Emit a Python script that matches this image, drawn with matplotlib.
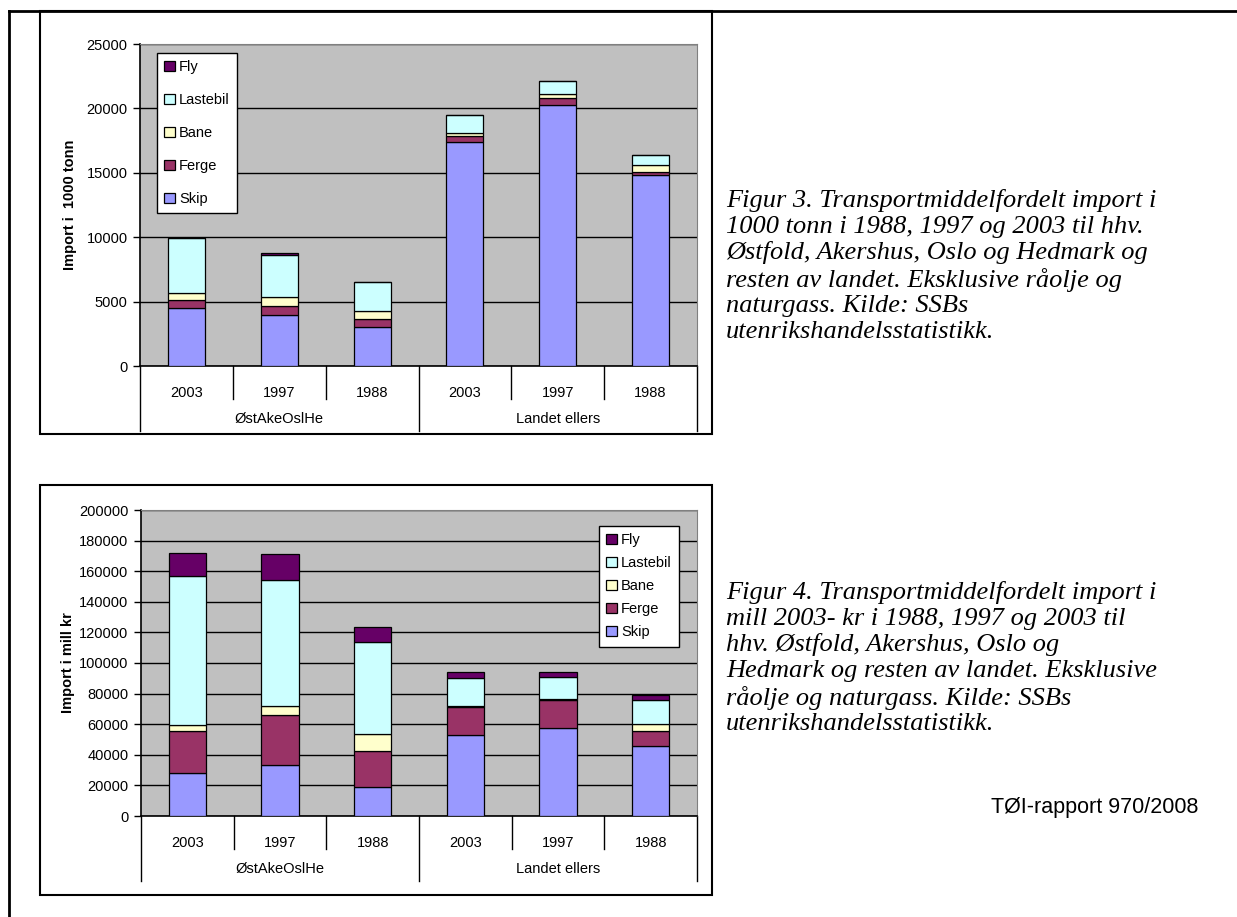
import numpy as np
import matplotlib
matplotlib.use('Agg')
import matplotlib.pyplot as plt
from matplotlib.patches import Rectangle
from matplotlib.lines import Line2D

W, H = 1237, 917

years = ['2003', '1997', '1988', '2003', '1997', '1988']
groups = ['ØstAkeOslHe', 'Landet ellers']
modes = ['Skip', 'Ferge', 'Bane', 'Lastebil', 'Fly']
colors = ['#9999FF', '#993366', '#FFFFCC', '#CCFFFF', '#660066']

# import i 1000 tonn
tonn_skip = [4540, 3970, 3010, 17380, 20230, 14830]
tonn_ferge = [620, 670, 670, 510, 540, 260]
tonn_bane = [520, 680, 570, 210, 340, 520]
tonn_lastebil = [4220, 3290, 2260, 1380, 1010, 750]
tonn_fly = [40, 130, 20, 30, 40, 20]

# import i mill kr
kr_skip = [28100, 33600, 18700, 52900, 57700, 45800]
kr_ferge = [27200, 32200, 23800, 18600, 18300, 9800]
kr_bane = [4400, 6100, 11100, 600, 300, 4300]
kr_lastebil = [96900, 82600, 60100, 17900, 14500, 15900]
kr_fly = [15300, 16500, 10000, 4100, 3300, 3100]

caption3 = ["Figur 3. Transportmiddelfordelt import i",
            "1000 tonn i 1988, 1997 og 2003 til hhv.",
            "Østfold, Akershus, Oslo og Hedmark og",
            "resten av landet. Eksklusive råolje og",
            "naturgass. Kilde: SSBs",
            "utenrikshandelsstatistikk."]
caption4 = ["Figur 4. Transportmiddelfordelt import i",
            "mill 2003- kr i 1988, 1997 og 2003 til",
            "hhv. Østfold, Akershus, Oslo og",
            "Hedmark og resten av landet. Eksklusive",
            "råolje og naturgass. Kilde: SSBs",
            "utenrikshandelsstatistikk."]

plt.rcParams['font.family'] = ['Liberation Sans', 'DejaVu Sans']
FS = 10.5
SERIF = ['Liberation Serif', 'DejaVu Serif']


def px_rect(x0, y0, x1, y1):
    """ Pixel box (top-left origin) to figure fraction rect. """
    return [x0 / W, 1 - y1 / H, (x1 - x0) / W, (y1 - y0) / H]


def draw_chart(fig, box, area, series, ymax, ystep, ylabel, labelpad, legend_box, legend_spacing):
    # outer chart frame
    bx0, by0, bx1, by1 = box
    fig.add_artist(Rectangle((bx0 / W, 1 - by1 / H), (bx1 - bx0) / W, (by1 - by0) / H,
                             transform=fig.transFigure, fill=False, edgecolor='black', lw=1.5))

    ax = fig.add_axes(px_rect(*area))
    ax.set_facecolor('#C0C0C0')
    x = np.arange(len(years))
    bottom = np.zeros(len(years))
    handles = []
    for vals, name, c in zip(series, modes, colors):
        b = ax.bar(x, vals, 0.4, bottom=bottom, color=c, edgecolor='black', lw=0.9,
                   label=name, zorder=3)
        bottom += np.array(vals)
        handles.append(b)

    ax.set_xlim(-0.5, len(years) - 0.5)
    ax.set_ylim(0, ymax)
    ax.set_yticks(np.arange(0, ymax + 1, ystep))
    ax.yaxis.grid(True, color='black', lw=1.0, zorder=1)
    ax.tick_params(axis='y', direction='out', length=5, width=1, labelsize=FS, pad=4)
    ax.set_xticks([])
    for s in ['top', 'right']:
        ax.spines[s].set_color('#808080')
    for s in ['left', 'bottom']:
        ax.spines[s].set_color('black')
        ax.spines[s].set_linewidth(1.2)

    ax.set_ylabel(ylabel, fontsize=FS, fontweight='bold', labelpad=labelpad)

    # category axis: year labels, group labels and separators
    ah = area[3] - area[1]
    trans = ax.get_xaxis_transform()
    for i, yr in enumerate(years):
        ax.text(i, -27 / ah, yr, transform=trans, ha='center', va='center', fontsize=FS)
    for g, name in enumerate(groups):
        ax.text(g * 3 + 1, -53 / ah, name, transform=trans, ha='center', va='center', fontsize=FS)
    for k in range(len(years) + 1):
        depth = 65 if k % 3 == 0 else 33
        ax.add_line(Line2D([k - 0.5, k - 0.5], [0, -depth / ah], transform=trans,
                           color='black', lw=1.0, clip_on=False))

    lx0, ly0 = legend_box
    leg = ax.legend(handles[::-1], modes[::-1], loc='upper left',
                    bbox_to_anchor=(lx0 / W, 1 - ly0 / H), bbox_transform=fig.transFigure,
                    fontsize=FS, frameon=True, fancybox=False, framealpha=1,
                    edgecolor='black', handlelength=0.7, handleheight=0.7,
                    handletextpad=0.3, labelspacing=legend_spacing, borderpad=0.5,
                    borderaxespad=0)
    leg.get_frame().set_linewidth(1.0)
    leg.set_zorder(5)
    return ax


def caption(fig, lines, y_first, step=26.5):
    for i, line in enumerate(lines):
        fig.text(726 / W, 1 - (y_first + i * step) / H, line, fontsize=19, family=SERIF,
                 style='italic', ha='left', va='center')


fig = plt.figure(figsize=(W / 100, H / 100), dpi=100)

# page border
fig.add_artist(Line2D([9 / W, 9 / W], [0, 1 - 11 / H], transform=fig.transFigure, color='black', lw=2))
fig.add_artist(Line2D([9 / W, 1], [1 - 11 / H, 1 - 11 / H], transform=fig.transFigure, color='black', lw=2))

draw_chart(fig, (40, 11, 712, 434), (140, 44, 697, 366),
           [tonn_skip, tonn_ferge, tonn_bane, tonn_lastebil, tonn_fly],
           25000, 5000, 'Import i  1000 tonn', 7, (157, 53), 1.3)

draw_chart(fig, (40, 485, 712, 895), (141, 510, 697, 816),
           [kr_skip, kr_ferge, kr_bane, kr_lastebil, kr_fly],
           200000, 20000, 'Import i mill kr', 3, (599, 526), 0.62)

caption(fig, caption3, 200)
caption(fig, caption4, 592)
fig.text(1198 / W, 1 - 808 / H, 'TØI-rapport 970/2008', fontsize=15.5, ha='right', va='center')

fig.savefig('out.png', dpi=100)
